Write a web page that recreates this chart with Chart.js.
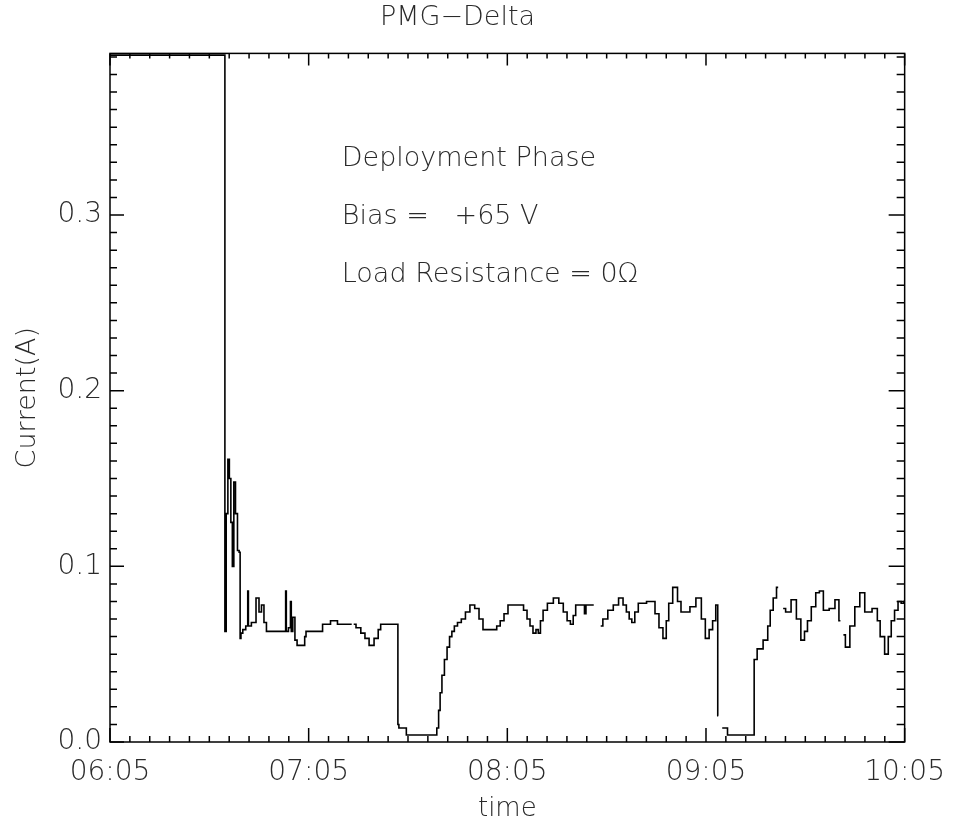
<!DOCTYPE html>
<html><head><meta charset="utf-8">
<script src="https://cdn.jsdelivr.net/npm/chart.js@4.4.0/dist/chart.umd.min.js"></script>
<style>html,body{margin:0;padding:0;background:#fff}#wrap{width:959px;height:827px}</style>
</head><body><div id="wrap"><canvas id="c" width="959" height="827"></canvas></div>
<script>
// minutes after 06:05
const timeMin = [0,34.6,34.8,35.4,35.8,36.3,36.7,37.2,37.6,38.2,38.8,39.2,39.4,39.7,40.5,41.5,41.7,41.9,43.5,44.7,45.3,46.2,46.8,47.7,53.0,53.1,53.4,54.4,54.6,54.9,55.5,56.2,56.8,58.7,58.9,59.5,64.1,64.3,66.5,66.7,68.6,68.8,73.0,73.3,
73.6,75.0,76.5,77.5,79.0,80.5,81.5,82.0,86.8,87.1,87.4,89.4,89.6,98.4,99.0,99.5,99.9,100.6,101.4,102.2,102.9,103.6,104.4,105.5,106.7,108.0,109.4,110.9,112.0,113.3,116.3,117.3,118.4,119.6,120.8,124.3,125.5,126.4,127.3,128.2,129.1,129.6,130.4,131.2,133.0,134.8,136.3,137.5,138.6,139.5,140.3,141.0,143.0,143.6,143.9,146.1,147.0,
148.2,149.5,151.2,152.8,154.4,155.5,156.4,157.2,158.0,159.0,160.1,164.0,165.2,166.4,167.6,168.4,169.1,170.8,172.0,172.9,174.4,175.9,178.0,179.2,180.4,181.5,182.5,183.4,183.7,184.3,
184.9,186.0,187.0,194.4,194.7,196.2,198.3,199.0,199.8,200.8,201.8,202.5,
203.3,204.8,206.6,208.0,209.3,210.2,211.1,212.5,213.8,214.7,216.2,218.2,219.7,220.6,221.0,
221.5,222.7,224.2,225.7,227.2,228.7,231.6,231.9,233.3,234.6,235.5,236.4,237.5,238.5,239.4,240];
const currentA = [0.391,0.391,0.063,0.130,0.161,0.150,0.125,0.100,0.148,0.130,0.109,0.108,0.059,0.062,0.064,0.066,0.086,0.066,0.068,0.082,0.074,0.078,0.068,0.063,0.063,0.086,0.063,0.065,0.080,0.063,0.071,0.058,0.055,0.055,0.060,0.063,0.063,0.067,0.067,0.069,0.069,0.067,0.067,null,
0.067,0.065,0.062,0.059,0.055,0.059,0.064,0.067,0.067,0.010,0.008,0.008,0.004,0.004,0.008,0.018,0.028,0.038,0.047,0.054,0.060,0.063,0.066,0.068,0.070,0.074,0.078,0.076,0.070,0.064,0.064,0.066,0.069,0.073,0.078,0.078,0.075,0.070,0.066,0.062,0.064,0.062,0.069,0.075,0.079,0.082,0.079,0.074,0.069,0.067,0.072,0.078,0.078,0.073,0.078,0.078,null,
0.066,0.070,0.075,0.078,0.082,0.078,0.074,0.070,0.068,0.074,0.079,0.080,0.073,0.065,0.059,0.069,0.079,0.088,0.080,0.074,0.074,0.077,0.082,0.070,0.059,0.064,0.069,0.078,0.015,null,
0.008,0.008,0.004,0.004,0.047,0.053,0.058,0.066,0.075,0.082,0.088,null,
0.076,0.074,0.081,0.070,0.058,0.063,0.069,0.077,0.085,0.086,0.075,0.076,0.081,0.069,null,
0.061,0.054,0.066,0.077,0.085,0.074,0.076,0.069,0.060,0.050,0.060,0.069,0.075,0.080,0.079,0.080];

const xTickMinutes = [0,60,120,180,240];
const xTickLabels = ["06:05","07:05","08:05","09:05","10:05"];
const yTickValues = [0.0,0.1,0.2,0.3];
const yTickLabels = ["0.0","0.1","0.2","0.3"];
const noteLines = ["Deployment Phase","Bias =   +65 V","Load Resistance = 0\u03A9"];
const noteYValues = [0.332,0.299,0.266];
const noteXMinute = 70;

const FONT = '"DejaVu Sans", sans-serif';
const TXT = '#2a2a2a';

const framePlugin = {
  id:'frame',
  afterDraw(chart){
    const {ctx, chartArea:a, scales:{x,y}} = chart;
    ctx.save();
    ctx.strokeStyle='#000'; ctx.lineWidth=1.5;
    ctx.strokeRect(a.left,a.top,a.right-a.left,a.bottom-a.top);
    ctx.beginPath();
    for(let m=0;m<=240;m+=6){
      const px=x.getPixelForValue(m); const major=(m%60===0);
      ctx.moveTo(px,a.bottom); ctx.lineTo(px,a.bottom-(major?14:6));
      ctx.moveTo(px,a.top); ctx.lineTo(px,a.top+(major?12:5));
    }
    for(let k=0;k<=39;k++){
      const v=k/100; const py=y.getPixelForValue(v); const major=(k%10===0);
      ctx.moveTo(a.left,py); ctx.lineTo(a.left+(major?14:7),py);
      ctx.moveTo(a.right,py); ctx.lineTo(a.right-(major?16:8),py);
    }
    ctx.stroke();
    ctx.fillStyle=TXT; ctx.font='200 27px '+FONT; ctx.textBaseline='middle'; ctx.textAlign='left';
    noteLines.forEach((s,i)=>{ ctx.fillText(s, x.getPixelForValue(noteXMinute), y.getPixelForValue(noteYValues[i])); });
    ctx.restore();
  }
};

new Chart(document.getElementById('c'),{
  type:'line',
  data:{datasets:[{data:timeMin.map((t,i)=>({x:t,y:currentA[i]})),borderColor:'#000',borderWidth:1.6,pointRadius:0,tension:0,stepped:'middle',spanGaps:false,fill:false}]},
  options:{
    responsive:false,animation:false,
    layout:{padding:{left:0,right:44,top:0,bottom:0}},
    plugins:{
      legend:{display:false},tooltip:{enabled:false},
      title:{display:true,text:'PMG\u2212Delta',color:TXT,font:{family:FONT,size:27,weight:200,lineHeight:1.2},padding:{top:2,bottom:19}}
    },
    scales:{
      x:{type:'linear',min:0,max:240,
        afterBuildTicks(s){s.ticks=xTickMinutes.map(v=>({value:v}));},
        afterFit(s){s.height=85;},
        grid:{display:false,drawTicks:false},border:{display:false},
        ticks:{padding:14,color:TXT,font:{family:FONT,size:28,weight:200},maxRotation:0,autoSkip:false,
          callback:(v)=>{const i=xTickMinutes.indexOf(v);return i>=0?xTickLabels[i]:'';}},
        title:{display:true,text:'time',color:TXT,font:{family:FONT,size:26,weight:200},padding:{top:0,bottom:2}}
      },
      y:{type:'linear',min:0,max:0.392,
        afterBuildTicks(s){s.ticks=yTickValues.map(v=>({value:v}));},
        afterFit(s){s.width=110;},
        grid:{display:false,drawTicks:false},border:{display:false},
        ticks:{padding:8,color:TXT,font:{family:FONT,size:28,weight:200},autoSkip:false,
          callback:(v)=>{const i=yTickValues.findIndex(t=>Math.abs(t-v)<1e-9);return i>=0?yTickLabels[i]:'';}},
        title:{display:true,text:'Current(A)',color:TXT,font:{family:FONT,size:27,weight:200},padding:{top:12,bottom:4}}
      }
    }
  },
  plugins:[framePlugin]
});
</script></body></html>
